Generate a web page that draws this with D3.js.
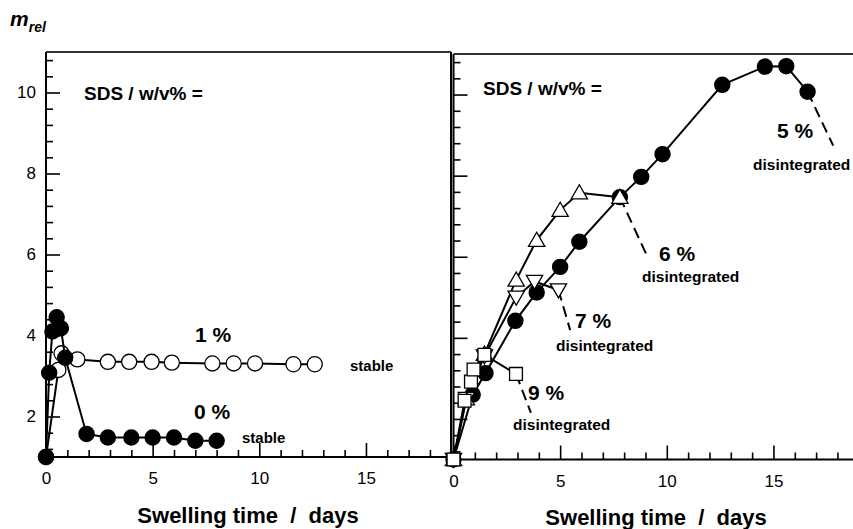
<!DOCTYPE html>
<html><head><meta charset="utf-8">
<script src="https://cdn.jsdelivr.net/npm/d3@7"></script>
<style>
html,body{margin:0;padding:0;background:#fff;}
svg{display:block;font-family:"Liberation Sans",Arial,sans-serif;}
</style></head>
<body><svg id="c" width="853" height="529"></svg>
<script>
// ---- data ----
const xMajorTicks = [0, 5, 10, 15];
const xMinorTicks = [1,2,3,4,6,7,8,9,11,12,13,14,16,17,18];
const yMajorTicks = [2, 4, 6, 8, 10];
const yMinorTicks = [1.2,1.6,2.4,2.8,3.2,3.6,4.4,4.8,5.2,5.6,6.4,6.8,7.2,7.6,8.4,8.8,9.2,9.6,10.4,10.8];

// left panel
const sds0Days = [0, 0.15, 0.3, 0.5, 0.7, 0.9, 1.9, 2.9, 4, 5, 6, 7, 8];
const sds0Mrel = [1.0, 3.08, 4.1, 4.45, 4.18, 3.45, 1.57, 1.48, 1.48, 1.48, 1.48, 1.4, 1.4];
const sds1Days = [0, 0.58, 0.73, 1.47, 2.9, 3.9, 4.95, 5.9, 7.8, 8.8, 9.8, 11.6, 12.6];
const sds1Mrel = [1.0, 3.15, 3.56, 3.41, 3.35, 3.35, 3.35, 3.33, 3.31, 3.31, 3.31, 3.29, 3.29];

// right panel
const sds5Days = [0, 0.9, 1.5, 2.9, 3.9, 5.0, 5.9, 7.8, 8.8, 9.8, 12.6, 14.6, 15.6, 16.6];
const sds5Mrel = [1.0, 2.6, 3.13, 4.42, 5.12, 5.75, 6.37, 7.47, 7.97, 8.53, 10.24, 10.69, 10.7, 10.07];
const sds6Days = [0, 0.6, 1.45, 2.94, 3.9, 5.0, 5.9, 7.8];
const sds6Mrel = [1.0, 2.5, 3.6, 5.43, 6.41, 7.15, 7.58, 7.47];
const sds7Days = [0, 0.6, 1.45, 2.94, 3.8, 4.92];
const sds7Mrel = [1.0, 2.5, 3.55, 5.0, 5.39, 5.18];
const sds9Days = [0, 0.52, 0.82, 0.94, 1.45, 2.93];
const sds9Mrel = [1.0, 2.45, 2.92, 3.22, 3.58, 3.11];

// disintegration dashes: [from day, from mrel, to day, to mrel]
const dash5 = [16.6, 10.07, 17.8, 8.74];
const dash6 = [7.8, 7.47, 9.1, 5.99];
const dash7 = [4.92, 5.18, 5.47, 4.19];
const dash9 = [2.93, 3.11, 3.63, 2.15];

const svg = d3.select("#c");
const FONT = '"Liberation Sans",Arial,sans-serif';

function panel(x0, x1, yB, yT, withLabels, box) {
  const x = d3.scaleLinear().domain([0, 19]).range([x0, x0 + 19 * 21.33]);
  const y = d3.scaleLinear().domain([1, 11]).range([yB, yT]);
  const g = svg.append("g");
  const axB = g.append("g").attr("transform", `translate(0,${yB})`);
  axB.call(d3.axisBottom(x).tickValues(xMinorTicks).tickSize(-7).tickFormat(""));
  const axB2 = g.append("g").attr("transform", `translate(0,${yB})`);
  axB2.call(d3.axisBottom(x).tickValues(xMajorTicks).tickSize(-14).tickPadding(15).tickFormat(d3.format("d")));
  const axL = g.append("g").attr("transform", `translate(${x0},0)`);
  axL.call(d3.axisLeft(y).tickValues(yMinorTicks).tickSize(-7).tickFormat(""));
  const axL2 = g.append("g").attr("transform", `translate(${x0},0)`);
  axL2.call(d3.axisLeft(y).tickValues(yMajorTicks).tickSize(-14).tickPadding(10)
    .tickFormat(withLabels ? d3.format("d") : ""));
  g.selectAll(".domain").remove();
  g.selectAll(".tick line").attr("stroke", "#000").attr("stroke-width", 1.6);
  g.selectAll(".tick text").attr("font-size", 17).attr("font-family", FONT).attr("fill", "#000");
  g.append("line").attr("x1", x0).attr("x2", x1).attr("y1", yB).attr("y2", yB).attr("stroke", "#000").attr("stroke-width", 2);
  g.append("line").attr("x1", x0).attr("x2", x0).attr("y1", yB).attr("y2", yT).attr("stroke", "#000").attr("stroke-width", 2);
  g.append("line").attr("x1", x0).attr("x2", x1).attr("y1", yT).attr("y2", yT).attr("stroke", "#333").attr("stroke-width", 2);
  if (box) g.append("line").attr("x1", x1).attr("x2", x1).attr("y1", yB).attr("y2", yT).attr("stroke", "#000").attr("stroke-width", 2);
  return {x, y, g};
}

const L = panel(46, 451, 457, 52, true, true);
const R = panel(453.5, 853, 459.5, 54, false, false);

function series(P, days, vals, shape, fill) {
  const pts = days.map((d, i) => [P.x(d), P.y(vals[i])]);
  P.g.append("path").attr("d", d3.line()(pts)).attr("fill", "none").attr("stroke", "#000").attr("stroke-width", 2);
  const sym = d3.symbol().type(shape).size(shape === d3.symbolCircle ? 180 : 165);
  P.g.selectAll(null).data(pts).enter().append("path")
    .attr("d", sym)
    .attr("transform", (p) => `translate(${p[0]},${p[1]})`)
    .attr("fill", fill).attr("stroke", "#000").attr("stroke-width", 1.3);
}
function seriesTri(P, days, vals, down) {
  const pts = days.map((d, i) => [P.x(d), P.y(vals[i])]);
  P.g.append("path").attr("d", d3.line()(pts)).attr("fill", "none").attr("stroke", "#000").attr("stroke-width", 2);
  const sym = d3.symbol().type(d3.symbolTriangle).size(115);
  P.g.selectAll(null).data(pts).enter().append("path")
    .attr("d", sym)
    .attr("transform", (p) => `translate(${p[0]},${p[1] + (down ? -1.5 : 1.5)})` + (down ? " rotate(180)" : ""))
    .attr("fill", "#fff").attr("stroke", "#000").attr("stroke-width", 1.3);
}
function dashLine(P, d) {
  P.g.append("line").attr("x1", P.x(d[0])).attr("y1", P.y(d[1])).attr("x2", P.x(d[2])).attr("y2", P.y(d[3]))
    .attr("stroke", "#000").attr("stroke-width", 2).attr("stroke-dasharray", "11,6");
}

series(L, sds1Days, sds1Mrel, d3.symbolCircle, "#fff");
series(L, sds0Days, sds0Mrel, d3.symbolCircle, "#000");

dashLine(R, dash5); dashLine(R, dash6); dashLine(R, dash7); dashLine(R, dash9);
series(R, sds5Days, sds5Mrel, d3.symbolCircle, "#000");
seriesTri(R, sds6Days, sds6Mrel, false);
seriesTri(R, sds7Days, sds7Mrel, true);
series(R, sds9Days, sds9Mrel, d3.symbolSquare, "#fff");

function txt(x, y, s, size, opts = {}) {
  const t = svg.append("text").attr("x", x).attr("y", y).attr("font-size", size)
    .attr("font-weight", opts.weight || "bold").attr("font-family", FONT)
    .attr("text-anchor", opts.anchor || "start").attr("fill", "#000")
    .style("white-space", "pre").text(s);
  if (opts.italic) t.attr("font-style", "italic");
  return t;
}
const ml = svg.append("text").attr("x", 10).attr("y", 26).attr("font-family", FONT)
  .attr("font-weight", "bold").attr("font-style", "italic").attr("fill", "#000");
ml.append("tspan").attr("font-size", 21).text("m");
ml.append("tspan").attr("font-size", 14).attr("dy", 6).text("rel");

txt(84, 100, "SDS / w/v% =", 19);
txt(483, 95, "SDS / w/v% =", 19);

txt(248, 523, "Swelling time  /  days", 22, {anchor: "middle"});
txt(656, 525, "Swelling time  /  days", 22, {anchor: "middle"});

txt(195, 342, "1 %", 21);
txt(194, 419, "0 %", 21);
txt(350, 371, "stable", 15);
txt(242, 443, "stable", 15);

txt(777, 138, "5 %", 21);
txt(753, 170, "disintegrated", 15.5);
txt(659, 261, "6 %", 21);
txt(642, 282, "disintegrated", 15.5);
txt(575, 328, "7 %", 21);
txt(556, 351, "disintegrated", 15.5);
txt(528, 400, "9 %", 21);
txt(513, 430, "disintegrated", 15.5);
</script></body></html>
